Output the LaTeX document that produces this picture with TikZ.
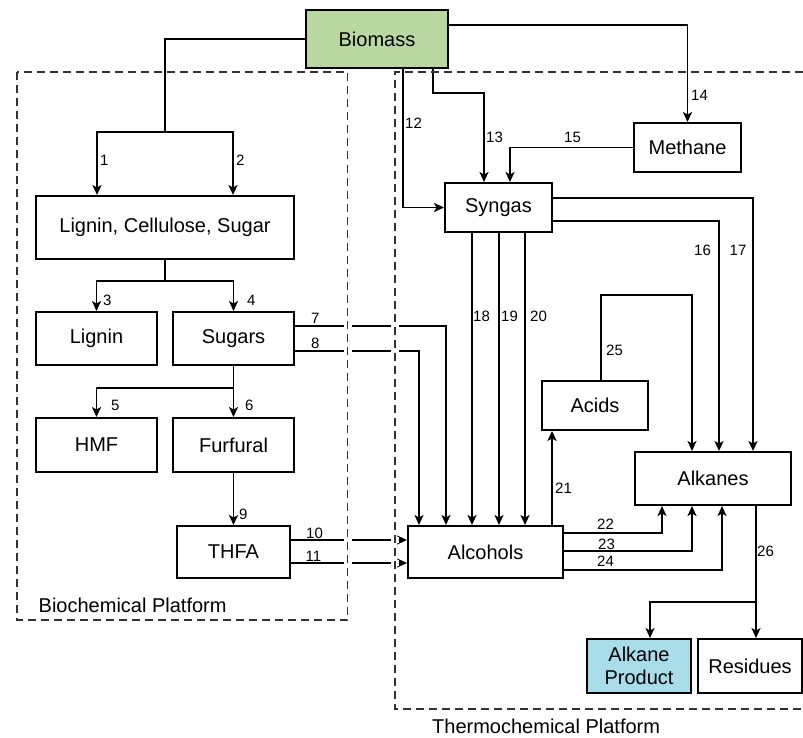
\documentclass[tikz,border=0pt]{standalone}
\usepackage{fontspec}
\setmainfont{Liberation Sans}
\usetikzlibrary{arrows.meta}
\definecolor{biomassgreen}{RGB}{185,215,160}
\definecolor{productblue}{RGB}{168,220,232}
\definecolor{platformgrey}{RGB}{50,50,50}
\begin{document}
\begin{tikzpicture}[x=1pt,y=-1pt,
  box/.style={draw=black, line width=1.9pt, fill=white, inner sep=0pt,
    font=\fontsize{20}{23}\selectfont, align=center},
  conn/.style={line width=1.8pt},
  arr/.style={conn, -{Stealth[length=10pt,width=9pt,inset=2.5pt]}},
  num/.style={anchor=west, inner sep=0pt, font=\fontsize{15}{17}\selectfont},
  platform/.style={draw=platformgrey, line width=1.1pt, dash pattern=on 8pt off 5pt},
  plabel/.style={anchor=west, inner sep=0pt, font=\fontsize{20}{23}\selectfont}]
\useasboundingbox (0,0) rectangle (803,738);

% ---- process nodes
\node[box, fill=biomassgreen, minimum width=142pt, minimum height=58pt] (biomass) at (377,39) {Biomass};
\node[box, minimum width=258pt, minimum height=63pt] (lcs) at (165,227.5) {Lignin, Cellulose, Sugar};
\node[box, minimum width=121pt, minimum height=53pt] (lignin) at (96.5,338.5) {Lignin};
\node[box, minimum width=121pt, minimum height=53pt] (sugars) at (233.5,338.5) {Sugars};
\node[box, minimum width=121pt, minimum height=54pt] (hmf) at (96.5,445) {HMF};
\node[box, minimum width=121pt, minimum height=54pt] (furfural) at (233.5,445) {Furfural};
\node[box, minimum width=113pt, minimum height=52pt] (thfa) at (233.5,552) {THFA};
\node[box, minimum width=107pt, minimum height=49pt] (syngas) at (498.5,207.5) {Syngas};
\node[box, minimum width=107pt, minimum height=49pt] (methane) at (687.5,147.5) {Methane};
\node[box, minimum width=106pt, minimum height=49pt] (acids) at (595,405.5) {Acids};
\node[box, minimum width=156pt, minimum height=53pt] (alkanes) at (713,478.5) {Alkanes};
\node[box, minimum width=155pt, minimum height=52pt] (alcohols) at (485.5,552) {Alcohols};
\node[box, fill=productblue, minimum width=104pt, minimum height=54pt] (product) at (639,666) {Alkane\\Product};
\node[box, minimum width=104pt, minimum height=54pt] (residues) at (750,666) {Residues};

% ---- biochemical routes
\coordinate (j1) at (165,132);
\draw[conn] (biomass.west) -| (j1);
\draw[arr] (j1) -| ([xshift=-68pt]lcs.north);
\draw[arr] (j1) -| ([xshift=68pt]lcs.north);
\coordinate (j2) at (165,281);
\draw[conn] (lcs.south) -- (j2);
\draw[arr] (j2) -| (lignin.north);
\draw[arr] (j2) -| (sugars.north);
\coordinate (j3) at (233.5,388);
\draw[conn] (sugars.south) -- (j3);
\draw[arr] (j3) -| (hmf.north);
\draw[arr] (j3) -- (furfural.north);
\draw[arr] (furfural.south) -- (thfa.north);

% ---- cross-platform routes
\draw[arr] ([yshift=12.5pt]sugars.east) -| ([xshift=-39.5pt]alcohols.north);
\draw[arr] ([yshift=-12.5pt]sugars.east) -| ([xshift=-66.5pt]alcohols.north);
\coordinate (o10) at ([yshift=12pt]thfa.east);
\coordinate (o11) at ([yshift=-11pt]thfa.east);
\draw[arr] (o10) -- (o10 -| alcohols.west);
\draw[arr] (o11) -- (o11 -| alcohols.west);

% ---- thermochemical routes
\draw[arr] ([xshift=26pt]biomass.south) |- (syngas.west);
\draw[arr] ([xshift=56pt]biomass.south) -- ++(0,24) -| ([xshift=-14.5pt]syngas.north);
\draw[arr] ([yshift=14pt]biomass.east) -| (methane.north);
\draw[arr] (methane.west) -| ([xshift=11.5pt]syngas.north);
\draw[arr] ([yshift=-13.5pt]syngas.east) -| ([xshift=6pt]alkanes.north);
\draw[arr] ([yshift=9.5pt]syngas.east) -| ([xshift=40pt]alkanes.north);
\coordinate (s18) at ([xshift=-26.5pt]syngas.south);
\coordinate (s19) at ([xshift=0.5pt]syngas.south);
\coordinate (s20) at ([xshift=26.5pt]syngas.south);
\draw[arr] (s18) -- (s18 |- alcohols.north);
\draw[arr] (s19) -- (s19 |- alcohols.north);
\draw[arr] (s20) -- (s20 |- alcohols.north);
\coordinate (a21) at ([xshift=66.5pt]alcohols.north);
\draw[arr] (a21) -- (a21 |- acids.south);
\draw[arr] ([yshift=19pt]alcohols.east) -| ([xshift=-51pt]alkanes.south);
\draw[arr] ([yshift=1pt]alcohols.east) -| ([xshift=-21pt]alkanes.south);
\draw[arr] ([yshift=-18pt]alcohols.east) -| ([xshift=9pt]alkanes.south);
\draw[arr] ([xshift=6pt]acids.north) -- ++(0,-85) -| ([xshift=-21pt]alkanes.north);
\coordinate (a26) at ([xshift=43pt]alkanes.south);
\coordinate (j4) at ([yshift=-96pt]a26);
\draw[conn] (a26) -- (j4);
\draw[arr] (j4) -| ([xshift=11pt]product.north);
\draw[arr] (j4) -- (j4 |- residues.north);

% ---- line jumps where routes cross the platform borders
\foreach \yy in {326,351,540,563}
  \foreach \xx in {347.5,395}
    \fill[white] (\xx-4,\yy-3) rectangle (\xx+4,\yy+3);

% ---- platform frames
\draw[platform] (17,72) rectangle (347.5,620);
\draw[platform] (803,72) -- (395,72) -- (395,709) -- (803,709);
\node[plabel] (biolabel) at (38.5,605) {Biochemical Platform};
\node[plabel] (thermolabel) at (432,726) {Thermochemical Platform};

% ---- route numbers
\node[num] (n1) at (100,160) {1};
\node[num] (n2) at (236,160) {2};
\node[num] (n3) at (103,300) {3};
\node[num] (n4) at (247,300) {4};
\node[num] (n5) at (111,405) {5};
\node[num] (n6) at (245,405) {6};
\node[num] (n7) at (311,318) {7};
\node[num] (n8) at (311,343) {8};
\node[num] (n9) at (239,514) {9};
\node[num] (n10) at (306,533) {10};
\node[num] (n11) at (305.5,556) {11};
\node[num] (n12) at (405,123) {12};
\node[num] (n13) at (486,137.5) {13};
\node[num] (n14) at (691,95) {14};
\node[num] (n15) at (564,137) {15};
\node[num] (n16) at (694,250) {16};
\node[num] (n17) at (729.5,250) {17};
\node[num] (n18) at (473,316) {18};
\node[num] (n19) at (501,316) {19};
\node[num] (n20) at (530,316) {20};
\node[num] (n21) at (555,488) {21};
\node[num] (n22) at (597,524) {22};
\node[num] (n23) at (598,544.5) {23};
\node[num] (n24) at (597,561) {24};
\node[num] (n25) at (606,350) {25};
\node[num] (n26) at (757,551) {26};
\end{tikzpicture}
\end{document}
